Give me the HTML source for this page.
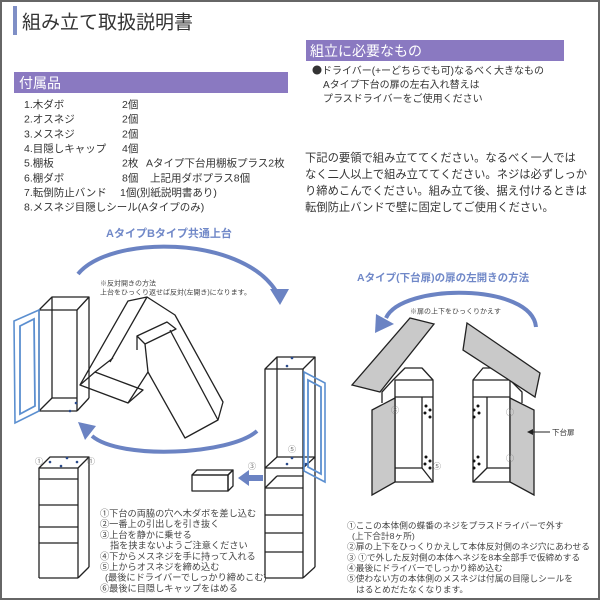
<!DOCTYPE html>
<html><head><meta charset="utf-8">
<style>
html,body{margin:0;padding:0;background:#fff;}
svg{display:block;}
text{font-family:"Liberation Sans","Noto Sans CJK JP",sans-serif;}
</style></head><body>
<svg width="600" height="600" viewBox="0 0 600 600" xmlns="http://www.w3.org/2000/svg">
<rect x="0" y="0" width="600" height="600" fill="#fff"/>
<rect x="1" y="1" width="598" height="598" fill="none" stroke="#666" stroke-width="2"/>

<!-- Header -->
<rect x="13" y="6" width="4" height="29" fill="#7f8fc6"/>
<text x="22" y="28.5" font-size="19" fill="#333">組み立て取扱説明書</text>

<rect x="306" y="40" width="258" height="21" fill="#8a79c1"/>
<text x="310" y="56" font-size="14" fill="#fff">組立に必要なもの</text>

<rect x="14" y="72" width="274" height="21" fill="#8a79c1"/>
<text x="19" y="88" font-size="14" fill="#fff">付属品</text>

<g font-size="10" fill="#333">
<text x="312" y="73.8"><tspan font-family="Noto Sans CJK JP, sans-serif">●</tspan>ドライバー(+ーどちらでも可)なるべく大きなもの</text>
<text x="323" y="87.8">Aタイプ下台の扉の左右入れ替えは</text>
<text x="323" y="101.8">プラスドライバーをご使用ください</text>
</g>

<!-- Parts list -->
<g font-size="10.5" fill="#333">
<text x="24" y="108">1.木ダボ</text><text x="122" y="108">2個</text>
<text x="24" y="122.7">2.オスネジ</text><text x="122" y="122.7">2個</text>
<text x="24" y="137.4">3.メスネジ</text><text x="122" y="137.4">2個</text>
<text x="24" y="152">4.目隠しキャップ</text><text x="122" y="152">4個</text>
<text x="24" y="166.7">5.棚板</text><text x="122" y="166.7">2枚</text><text x="146" y="166.7">Aタイプ下台用棚板プラス2枚</text>
<text x="24" y="181.4">6.棚ダボ</text><text x="122" y="181.4">8個</text><text x="150" y="181.4">上記用ダボプラス8個</text>
<text x="24" y="196">7.転倒防止バンド</text><text x="120" y="196">1個(別紙説明書あり)</text>
<text x="24" y="210.7">8.メスネジ目隠しシール(Aタイプのみ)</text>
</g>

<!-- Right paragraph -->
<g font-size="11.3" fill="#333">
<text x="305" y="161.3">下記の要領で組み立ててください。なるべく一人では</text>
<text x="305" y="177.8">なく二人以上で組み立ててください。ネジは必ずしっか</text>
<text x="305" y="194.3">り締めこんでください。組み立て後、据え付けるときは</text>
<text x="305" y="210.8">転倒防止バンドで壁に固定してご使用ください。</text>
</g>

<!-- Left diagram title and arcs -->
<text x="106" y="237.2" font-size="11" font-weight="bold" fill="#7088c8">AタイプBタイプ共通上台</text>
<path d="M78,274 C110,235 240,235 276,291" fill="none" stroke="#6b83c3" stroke-width="4"/>
<polygon points="270,289 289,289 280,305" fill="#6b83c3"/>
<text x="100" y="285.7" font-size="7" fill="#444">※反対開きの方法</text>
<text x="100" y="294.7" font-size="7" fill="#444">上台をひっくり返せば反対(左開き)になります。</text>

<path d="M257,431 C230,455 120,460 92,436" fill="none" stroke="#6b83c3" stroke-width="4"/>
<polygon points="78,422 96,426 85,440" fill="#6b83c3"/>

<!-- Upper-left cabinet -->
<g fill="none" stroke="#222" stroke-width="1.3" stroke-linejoin="round">
<polygon points="39,310 52,297 89,297 77,310"/>
<line x1="39" y1="310" x2="39" y2="411"/>
<line x1="77" y1="310" x2="77" y2="411"/>
<line x1="39" y1="411" x2="77" y2="411"/>
<line x1="89" y1="297" x2="89" y2="398"/>
<line x1="77" y1="411" x2="89" y2="398"/>
<line x1="52" y1="297" x2="52" y2="398"/>
<line x1="52" y1="398" x2="77" y2="398"/>
<line x1="39" y1="411" x2="52" y2="398"/>
</g>
<polygon points="39,310 14,321 15,423 39,411" fill="none" stroke="#5b8fd0" stroke-width="1.6"/>
<polygon points="20,326 34,319 35,406 20,414" fill="none" stroke="#5b8fd0" stroke-width="1.8"/>
<circle cx="76" cy="403" r="1.3" fill="#2a4a8a"/>
<circle cx="70" cy="411" r="1.3" fill="#2a4a8a"/>

<!-- Middle folding beams -->
<g fill="none" stroke="#222" stroke-width="1.3" stroke-linejoin="round">
<!-- right beam -->
<polyline points="147,297 175,315 223,402 218,420 185,438 148,372"/>
<line x1="170" y1="330" x2="218" y2="420"/>
<!-- left beam -->
<polyline points="80,385 128,301 147,297 110,362"/>
<polygon points="80,385 95,372 143,390 128,403"/>
<line x1="128" y1="403" x2="148" y2="372"/>
<line x1="95" y1="372" x2="113" y2="358"/>
<!-- small inner box -->
<polygon points="137,336 167,322 176,329 145,344"/>
<line x1="137" y1="336" x2="137" y2="350"/>
<line x1="145" y1="344" x2="148" y2="372"/>
</g>

<!-- Lower-left cabinet -->
<g fill="none" stroke="#222" stroke-width="1.3" stroke-linejoin="round">
<polygon points="39,468 50,457 89,457 78,468"/>
<line x1="39" y1="468" x2="39" y2="578"/>
<line x1="78" y1="468" x2="78" y2="578"/>
<line x1="39" y1="578" x2="78" y2="578"/>
<line x1="89" y1="457" x2="89" y2="567"/>
<line x1="78" y1="578" x2="89" y2="567"/>
<line x1="39" y1="479" x2="78" y2="479"/>
<line x1="39" y1="505" x2="78" y2="505"/>
<line x1="39" y1="527" x2="78" y2="527"/>
<line x1="39" y1="543" x2="78" y2="543"/>
</g>
<g fill="#2a4a8a">
<circle cx="50" cy="462" r="1.3"/><circle cx="67" cy="458" r="1.3"/>
<circle cx="61" cy="466" r="1.3"/><circle cx="77" cy="462" r="1.3"/>
</g>
<text x="35" y="464" font-size="8" fill="#777">①</text>
<text x="87" y="464" font-size="8" fill="#777">①</text>

<!-- Drawer box and arrow -->
<g fill="none" stroke="#222" stroke-width="1.3" stroke-linejoin="round">
<rect x="192" y="475" width="36" height="16"/>
<polygon points="192,475 197,470 233,470 228,475"/>
<polygon points="228,475 233,470 233,486 228,491"/>
</g>
<rect x="247" y="475" width="16" height="6" fill="#6b83c3"/>
<polygon points="238,478 249,470 249,486" fill="#6b83c3"/>
<text x="248" y="469" font-size="8" fill="#777">③</text>

<!-- Right tall cabinet (left diagram) -->
<g fill="none" stroke="#222" stroke-width="1.3" stroke-linejoin="round">
<polygon points="265,369 277,357 315,357 303,369"/>
<line x1="265" y1="369" x2="265" y2="578"/>
<line x1="303" y1="369" x2="303" y2="578"/>
<line x1="315" y1="357" x2="315" y2="567"/>
<line x1="265" y1="578" x2="303" y2="578"/>
<line x1="303" y1="578" x2="315" y2="567"/>
<line x1="277" y1="357" x2="277" y2="457"/>
<polygon points="265,468 277,457 315,457 303,468"/>
<line x1="265" y1="488" x2="277" y2="476"/>
<line x1="277" y1="476" x2="303" y2="476"/>
<line x1="265" y1="488" x2="303" y2="488"/>
<line x1="265" y1="515" x2="303" y2="515"/>
<line x1="265" y1="533" x2="303" y2="533"/>
<line x1="265" y1="552" x2="303" y2="552"/>
</g>
<polygon points="304,372 325,383 325,482 304,471" fill="none" stroke="#5b8fd0" stroke-width="1.6"/>
<polygon points="308,380 321,387 321,474 308,467" fill="none" stroke="#5b8fd0" stroke-width="1.8"/>
<g fill="#2a4a8a">
<circle cx="292" cy="358" r="1.3"/><circle cx="287" cy="366" r="1.3"/>
<circle cx="292" cy="458" r="1.3"/><circle cx="287" cy="464" r="1.3"/>
<circle cx="306" cy="464" r="1.3"/>
</g>
<text x="288" y="452" font-size="8" fill="#777">⑤</text>

<!-- Bottom-left instructions -->
<g font-size="9.2" fill="#444">
<text x="100" y="516.5">①下台の両脇の穴へ木ダボを差し込む</text>
<text x="100" y="527.2">②一番上の引出しを引き抜く</text>
<text x="100" y="537.9">③上台を静かに乗せる</text>
<text x="110" y="548.6">指を挟まないようご注意ください</text>
<text x="100" y="559.3">④下からメスネジを手に持って入れる</text>
<text x="100" y="570">⑤上からオスネジを締め込む</text>
<text x="105" y="580.7">(最後にドライバーでしっかり締めこむ)</text>
<text x="100" y="591.4">⑥最後に目隠しキャップをはめる</text>
</g>

<!-- Right diagram -->
<text x="357" y="281" font-size="10.5" font-weight="bold" fill="#7088c8">Aタイプ(下台扉)の扉の左開きの方法</text>
<path d="M536,327 C532,283 402,283 386,318" fill="none" stroke="#6b83c3" stroke-width="4"/>
<polygon points="375,333 376,314 394,324" fill="#6b83c3"/>
<text x="410" y="313.7" font-size="7" fill="#444">※扉の上下をひっくりかえす</text>

<!-- Left body -->
<g fill="none" stroke="#222" stroke-width="1.3" stroke-linejoin="round">
<polyline points="382,403 382,392 393,380 405,368 422,368 433,380"/>
<rect x="395" y="380" width="38" height="102"/>
<line x1="395" y1="397" x2="433" y2="397"/>
<line x1="422" y1="397" x2="422" y2="468"/>
<line x1="395" y1="468" x2="422" y2="468"/>
<line x1="422" y1="468" x2="433" y2="482"/>
</g>
<polygon points="372,410 395,398 395,482 372,495" fill="#c9c9c9" stroke="#222" stroke-width="1.3"/>
<polygon points="410,318 434,324 380,392 352,385" fill="#c9c9c9" stroke="#222" stroke-width="1.3"/>

<!-- Right body -->
<g fill="none" stroke="#222" stroke-width="1.3" stroke-linejoin="round">
<polyline points="473,380 483,368 500,368 510,380 522,392 522,403"/>
<rect x="473" y="380" width="37" height="102"/>
<line x1="473" y1="397" x2="510" y2="397"/>
<line x1="487" y1="397" x2="487" y2="468"/>
<line x1="487" y1="468" x2="510" y2="468"/>
<line x1="487" y1="468" x2="473" y2="482"/>
</g>
<polygon points="510,398 534,410 534,495 510,482" fill="#c9c9c9" stroke="#222" stroke-width="1.3"/>
<polygon points="467,323 540,373 535,397 463,350" fill="#c9c9c9" stroke="#222" stroke-width="1.3"/>

<g fill="#111">
<circle cx="426" cy="406" r="1.5"/><circle cx="430" cy="410" r="1.5"/><circle cx="425" cy="413" r="1.5"/><circle cx="430" cy="417" r="1.5"/>
<circle cx="426" cy="457" r="1.5"/><circle cx="430" cy="461" r="1.5"/><circle cx="425" cy="464" r="1.5"/><circle cx="430" cy="468" r="1.5"/>
<circle cx="478" cy="406" r="1.5"/><circle cx="474" cy="410" r="1.5"/><circle cx="479" cy="413" r="1.5"/><circle cx="474" cy="417" r="1.5"/>
<circle cx="478" cy="457" r="1.5"/><circle cx="474" cy="461" r="1.5"/><circle cx="479" cy="464" r="1.5"/><circle cx="474" cy="468" r="1.5"/>
</g>
<g font-size="8" fill="#777">
<text x="391" y="413">③</text>
<text x="433" y="469">⑤</text>
<text x="506" y="415">①</text>
<text x="506" y="461">①</text>
</g>
<line x1="550" y1="432" x2="531" y2="432" stroke="#222" stroke-width="1"/>
<polygon points="527,432 533,429 533,435" fill="#222"/>
<text x="552" y="435" font-size="7.5" fill="#333">下台扉</text>

<!-- Bottom-right instructions -->
<g font-size="8.7" fill="#444">
<text x="347" y="528.3">①ここの本体側の蝶番のネジをプラスドライバーで外す</text>
<text x="352" y="539">(上下合計8ヶ所)</text>
<text x="347" y="549.6">②扉の上下をひっくりかえして本体反対側のネジ穴にあわせる</text>
<text x="347" y="560.3">③ ①で外した反対側の本体へネジを8本全部手で仮締めする</text>
<text x="347" y="571">④最後にドライバーでしっかり締め込む</text>
<text x="347" y="581.6">⑤使わない方の本体側のメスネジは付属の目隠しシールを</text>
<text x="356" y="592.3">はるとめだたなくなります。</text>
</g>
</svg>
</body></html>
